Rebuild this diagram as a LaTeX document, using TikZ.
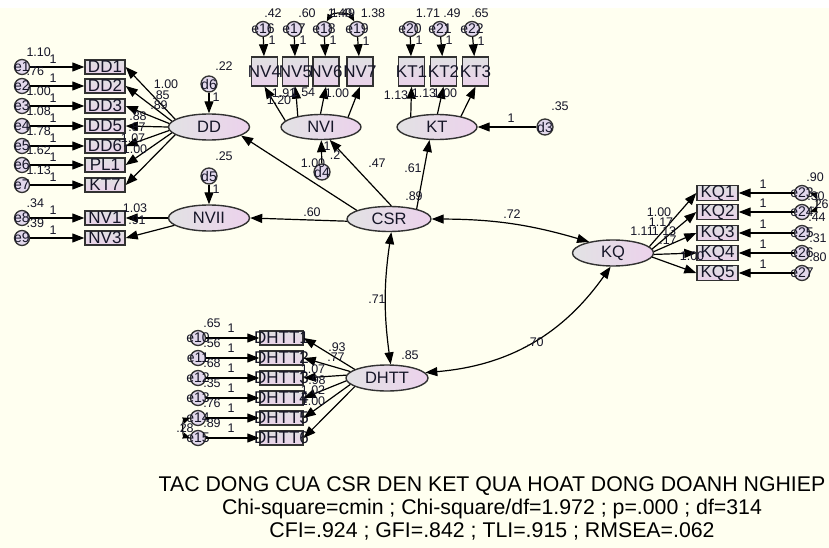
\documentclass[tikz,border=0pt]{standalone}
\usepackage{fontspec}
\setmainfont{Liberation Sans}
\usetikzlibrary{arrows.meta,shapes.geometric}
\definecolor{bgc}{RGB}{255,255,240}
\definecolor{boxtop}{RGB}{224,224,226}
\definecolor{boxbot}{RGB}{234,210,234}
\definecolor{ellL}{RGB}{226,226,228}
\definecolor{ellR}{RGB}{236,210,236}
\definecolor{circc}{RGB}{226,216,236}
\definecolor{ink}{RGB}{22,22,40}
\definecolor{edgec}{RGB}{50,50,50}
\newcommand{\zw}[1]{\makebox[0pt]{#1}}
\begin{document}
\begin{tikzpicture}[x=1pt,y=-1pt,
  >={Triangle[length=12pt,width=9pt]},
  arr/.style={draw=black, line width=1.2pt, ->},
  cov/.style={draw=black, line width=1.2pt, <->},
  covs/.style={draw=black, line width=1.2pt, <->, >={Triangle[length=7pt,width=6pt]}},
  obs/.style={rectangle, draw=edgec, line width=1.4pt, top color=boxtop, bottom color=boxbot, minimum width=40pt, minimum height=14pt, inner sep=0pt, text=ink, font=\fontsize{17}{17}\selectfont},
  obsv/.style={obs, minimum width=26pt, minimum height=29pt},
  lat/.style={ellipse, draw=edgec, line width=1.4pt, left color=ellL, right color=ellR, minimum width=81pt, minimum height=26pt, inner sep=0pt, text=ink, font=\fontsize{16.5}{16.5}\selectfont},
  err/.style={circle, draw=edgec, line width=1.3pt, fill=circc, minimum size=15pt, inner sep=0pt, text=ink, font=\fontsize{14}{14}\selectfont},
  dis/.style={err, minimum size=16pt},
  num/.style={inner sep=0pt, text=ink, font=\fontsize{12.5}{12.5}\selectfont},
  ttl/.style={inner sep=0pt, text=black, font=\fontsize{21.3}{21.3}\selectfont}
]
\fill[bgc] (0,0) rectangle (829,548);
\fill[white] (0,0) rectangle (829,8);
\useasboundingbox (0,0) rectangle (829,548);

% ---------- DD block
\foreach \n/\t/\y in {1/DD1/67,2/DD2/86,3/DD3/106,4/DD5/126,5/DD6/146,6/PL1/165,7/KT7/185}{
  \node[obs] (o\n) at (105,\y) {\zw{\t}};
  \node[err] (e\n) at (22,\y) {\zw{e\n}};
  \draw[arr] (e\n) -- (o\n);
}
\node[lat] (dd) at (209,127) {DD};
\node[dis] (d6) at (209,84) {\zw{d6}};
\draw[arr] (d6) -- (dd);
\foreach \n/\a in {1/167,2/171,3/175,4/180,5/185,6/189,7/193} \draw[arr] (dd.\a) -- (o\n.east);

% ---------- NVII block
\foreach \n/\t/\y in {8/NV1/218,9/NV3/238}{
  \node[obs] (o\n) at (105,\y) {\zw{\t}};
  \node[err] (e\n) at (22,\y) {\zw{e\n}};
  \draw[arr] (e\n) -- (o\n);
}
\node[lat] (nvii) at (209,218) {NVII};
\node[dis] (d5) at (209,176) {\zw{d5}};
\draw[arr] (d5) -- (nvii);
\draw[arr] (nvii.180) -- (o8.east);
\draw[arr] (nvii.192) -- (o9.east);

% ---------- NVI / KT blocks
\foreach \n/\t/\x/\ex in {16/NV4/264.5/263,17/NV5/295.5/294,18/NV6/326/324,19/NV7/360/357,20/KT1/411.5/410,21/KT2/443.5/440,22/KT3/475.5/472}{
  \node[obsv] (o\n) at (\x,71.5) {\zw{\t}};
  \node[err] (e\n) at (\ex,29) {\zw{e\n}};
  \draw[arr] (e\n) -- (o\n);
}
\node[lat, minimum width=80pt, minimum height=25pt] (nvi) at (321,127) {NVI};
\node[lat, minimum width=80pt, minimum height=25pt] (kt) at (437,127) {KT};
\foreach \n/\a in {16/170,17/155,18/92,19/20} \draw[arr] (nvi.\a) -- (o\n.south);
\foreach \n/\a in {20/159,21/88,22/24} \draw[arr] (kt.\a) -- (o\n.south);
\node[dis] (d4) at (322,172) {\zw{d4}};
\draw[arr] (d4) -- (nvi);
\node[dis] (d3) at (545,127) {\zw{d3}};
\draw[arr] (d3) -- (kt);
\draw[covs] (e18.70) to[bend left=60] (e19.110);

% ---------- CSR
\node[lat, minimum width=84pt, minimum height=25pt] (csr) at (389,219) {CSR};
\draw[arr] (csr.165) -- (dd.-15);
\draw[arr] (csr.183) -- (nvii.east);
\draw[arr] (csr.80) -- (nvi.-56);
\draw[arr] (csr.20) -- (kt.-120);

% ---------- KQ block
\node[lat] (kq) at (613,253) {KQ};
\foreach \n/\t/\y/\a in {23/KQ1/193/10,24/KQ2/212/6,25/KQ3/233/2,26/KQ4/253/-2,27/KQ5/273/-6}{
  \node[obs, minimum width=41pt] (o\n) at (717.5,\y) {\zw{\t}};
  \node[err] (e\n) at (802,\y) {\zw{e\n}};
  \draw[arr] (e\n) -- (o\n);
  \draw[arr] (kq.\a) -- (o\n.west);
}
\draw[covs] (e23.east) to[bend left=70] (e24.east);

% ---------- DHTT block
\node[lat, minimum width=82pt] (dhtt) at (387,378) {DHTT};
\foreach \n/\k/\y/\a in {10/1/338/165,11/2/358/170,12/3/378/176,13/4/398/184,14/5/418/190,15/6/438/195}{
  \node[obs, minimum width=43pt] (o\n) at (281.5,\y) {\zw{DHTT\k}};
  \node[err] (e\n) at (198,\y) {\zw{e\n}};
  \draw[arr] (e\n) -- (o\n);
  \draw[arr] (dhtt.\a) -- (o\n.east);
}
\draw[covs] (e14.west) to[bend right=70] (e15.west);

% ---------- latent covariances
\draw[cov] (csr.east) to[bend left=8] (kq.155);
\draw[cov] (csr.-80) to[bend right=8] (dhtt.75);
\draw[cov] (dhtt.8) to[bend right=25] (kq.-100);

% ---------- numeric labels
\foreach \x/\y/\t [count=\i] in {
 38.7/52/1.10, 35.3/71/.76, 38.7/91/1.00, 38.7/111/1.08, 38.7/131/1.78, 38.7/150/1.62, 38.7/170/1.13,
 53/59/1, 53/78/1, 53/98/1, 53/118/1, 53/138/1, 53/157/1, 53/177/1,
 35.3/203/.34, 35.3/223/.39, 53/210/1, 53/230/1,
 166/84/1.00, 161/95/.85, 159/105/.89, 138/116/.88, 137/127/.87, 133/138/1.07, 135/149/1.00,
 135/208/1.03, 137/220/.91,
 224/66/.22, 216/97/1, 224/156/.25, 216/189/1,
 273/13/.42, 307/13/.60, 340/13/1.40, 343/13/1.49, 373/13/1.38, 428/13/1.71, 452/13/.49, 480/13/.65,
 272/40/1, 303/40/1, 333/40/1, 366/41/1, 419/40/1, 449/40/1, 481/41/1,
 284/93/1.91, 279/100/1.20, 303/92/1.54, 337/93/1.00, 396/95/1.13, 424/93/1.13, 445/93/1.00,
 313/163/1.00, 327/146/1, 335/155/.2,
 560/106/.35, 511/118/1,
 312/212/.60, 377/163/.47, 413/168/.61, 414/196/.89, 512/214/.72, 377/299/.71, 535/342/.70, 410/355/.85,
 659/212/1.00, 661/222/1.17, 642/231/1.11, 664/231/1.13, 668/240/.17, 692/256/1.00,
 815/177/.90, 816/196/.30, 820/204/.26, 817/217/.44, 818/238/.31, 818/257/.80,
 763/184/1, 763/203/1, 763/224/1, 763/244/1, 763/264/1,
 212/323/.65, 212/343/.56, 212/363/.68, 212/383/.35, 212/403/.76, 212/423/.89, 185/428/.28,
 231/328/1, 231/348/1, 231/368/1, 231/388/1, 231/408/1, 231/428/1,
 337/347/.93, 336/357/.77, 313/369/1.07, 317/380/.98, 313/390/1.02, 313/401/1.00}
 \node[num] (lb\i) at (\x,\y) {\t};

% ---------- title
\node[ttl] (t1) at (492,486) {TAC DONG CUA CSR DEN KET QUA HOAT DONG DOANH NGHIEP};
\node[ttl] (t2) at (492,509) {Chi-square=cmin ; Chi-square/df=1.972 ; p=.000 ; df=314};
\node[ttl] (t3) at (492,531) {CFI=.924 ; GFI=.842 ; TLI=.915 ; RMSEA=.062};
\end{tikzpicture}
\end{document}
